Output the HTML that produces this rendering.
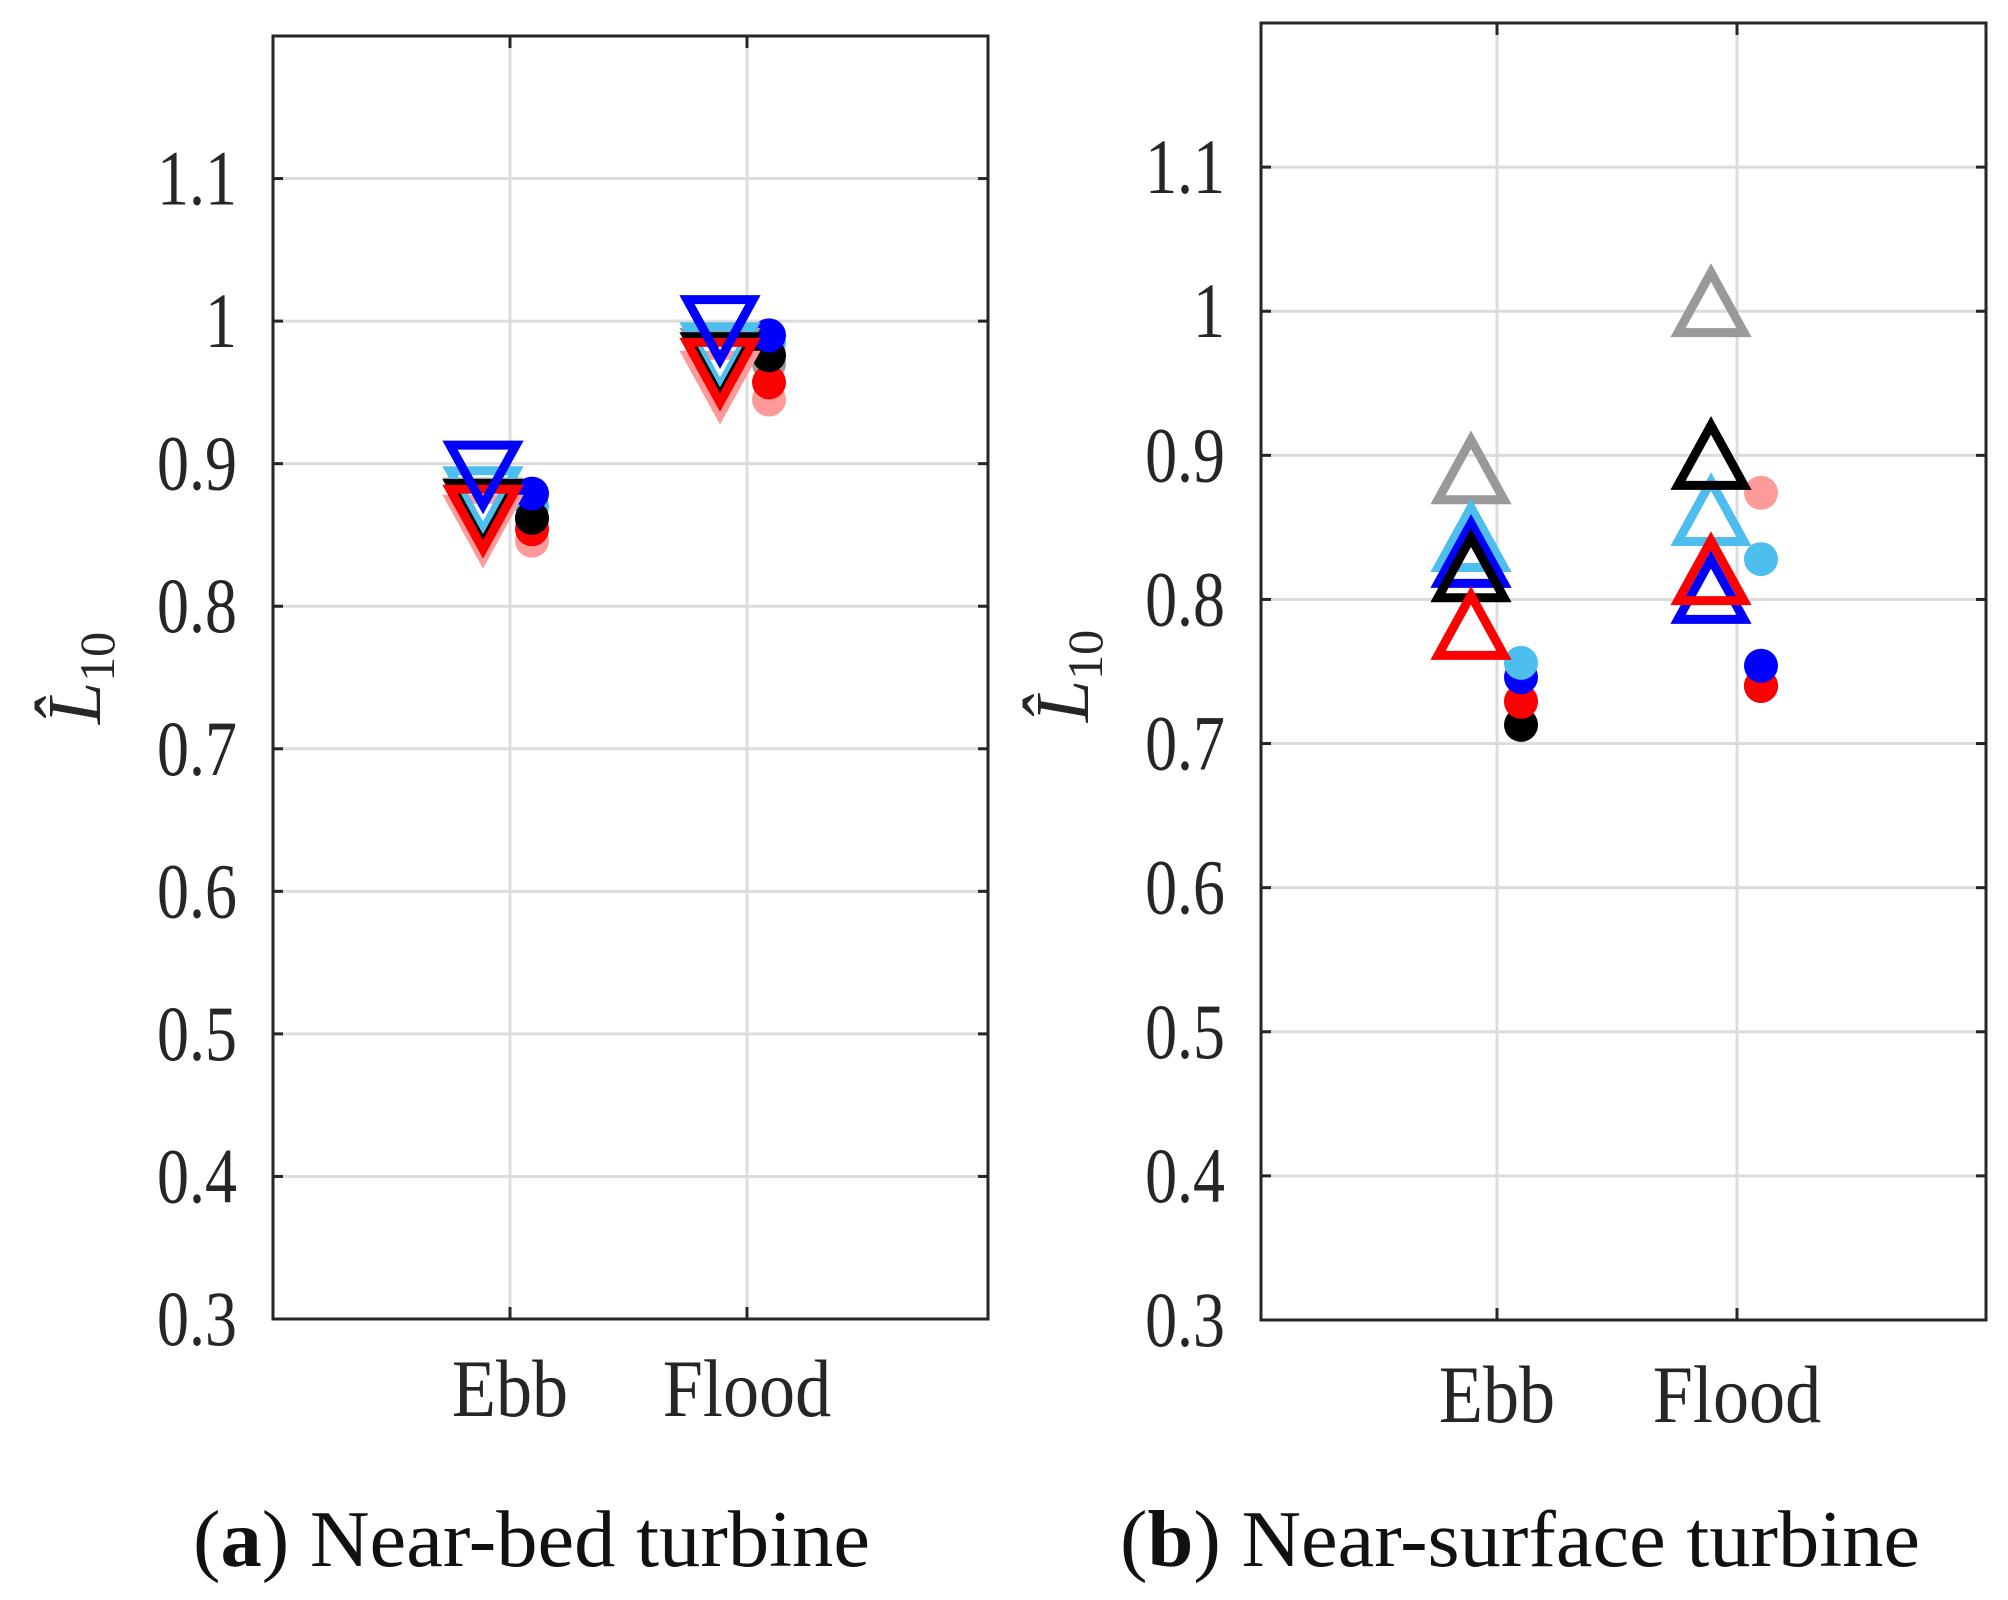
<!DOCTYPE html>
<html><head><meta charset="utf-8"><style>
html,body{margin:0;padding:0;background:#fff}
svg text{font-family:"Liberation Serif",serif;fill:#262626}
</style></head><body>
<svg id="fig" width="2008" height="1595" viewBox="0 0 2008 1595" xmlns="http://www.w3.org/2000/svg">
</svg>
<script>
// ---------- data ----------
const categories = ["Ebb", "Flood"];
const yTicks = [0.3, 0.4, 0.5, 0.6, 0.7, 0.8, 0.9, 1, 1.1];
const yTickLabels = ["0.3","0.4","0.5","0.6","0.7","0.8","0.9","1","1.1"];
const colorNames = ["pink","gray","black","lightblue","red","blue"];
// panel (a) near-bed: inverted triangles [ebb, flood]
const aTriPink = [0.854, 0.955];
const aTriGray = [0.866, 0.971];
const aTriBlack = [0.865, 0.968];
const aTriLightblue = [0.874, 0.975];
const aTriRed = [0.861, 0.964];
const aTriBlue = [0.892, 0.994];
// panel (a) dots
const aDotPink = [0.846, 0.945];
const aDotGray = [0.860, 0.970];
const aDotLightblue = [0.870, 0.985];
const aDotBlack = [0.862, 0.976];
const aDotRed = [0.854, 0.957];
const aDotBlue = [0.879, 0.990];
// panel (b) near-surface: triangles
const bTriGray = [0.890, 1.006];
const bTriLightblue = [0.843, 0.861];
const bTriBlue = [0.832, 0.807];
const bTriBlack = [0.822, 0.900];
const bTriRed = [0.782, 0.820];
// panel (b) dots
const bDotPink = [0.730, 0.874];
const bDotBlack = [0.713, 0.740];
const bDotLightblue = [0.756, 0.828];
const bDotBlue = [0.746, 0.754];
const bDotRed = [0.729, 0.740];

const COLORS = {pink:"#ff9a9a", gray:"#999999", black:"#000000", lightblue:"#4dbeee", red:"#ff0000", blue:"#0000ff"};
const NS = "http://www.w3.org/2000/svg";
const svg = document.getElementById("fig");
function mk(tag, attrs, parent){const e=document.createElementNS(NS,tag);for(const k in attrs)e.setAttribute(k,attrs[k]);(parent||svg).appendChild(e);return e;}

function panel(cfg){
  const g = mk("g",{});
  
  
  const ys = v => cfg.yTop + (1.2 - v) / 0.9 * (cfg.yBot - cfg.yTop);
  const xs = v => cfg.xEbb + (v - 1) * cfg.unit;
  yTicks.forEach((t,i)=>{
    const y = ys(t);
    const l = mk("line",{x1:cfg.x0,x2:cfg.x1,y1:y,y2:y,stroke:"#dcdcdc","stroke-width":3},g);
    
    
    mk("line",{x1:cfg.x0,x2:cfg.x0+10,y1:y,y2:y,stroke:"#262626","stroke-width":3},g);
    mk("line",{x1:cfg.x1-10,x2:cfg.x1,y1:y,y2:y,stroke:"#262626","stroke-width":3},g);
    const tx = mk("text",{x:cfg.x0-36,y:y+26,"text-anchor":"end","font-size":78,transform:`translate(${cfg.x0-36},0) scale(0.82,1) translate(${-(cfg.x0-36)},0)`},g);
    tx.textContent = yTickLabels[i];
    
    
  });
  categories.forEach((c,i)=>{
    const x = xs(i+1);
    const l = mk("line",{x1:x,x2:x,y1:cfg.yTop,y2:cfg.yBot,stroke:"#dcdcdc","stroke-width":3},g);
    
    
    mk("line",{x1:x,x2:x,y1:cfg.yBot-12,y2:cfg.yBot,stroke:"#262626","stroke-width":3},g);
    mk("line",{x1:x,x2:x,y1:cfg.yTop,y2:cfg.yTop+12,stroke:"#262626","stroke-width":3},g);
    const tx = mk("text",{x:x,y:cfg.labelY,"text-anchor":"middle","font-size":82,transform:`translate(${x},0) scale(0.88,1) translate(${-x},0)`},g);
    tx.textContent = c;
    
    
  });
  const box = mk("rect",{x:cfg.x0,y:cfg.yTop,width:cfg.x1-cfg.x0,height:cfg.yBot-cfg.yTop,fill:"none",stroke:"#262626","stroke-width":3},g);
  
  
  const yl = mk("text",{x:0,y:0,"font-size":76,transform:`translate(${cfg.ylX},${cfg.ylY}) rotate(-90)`,"text-anchor":"middle"},g);
  
  
  const t1 = mk("tspan",{"font-style":"italic"},yl); t1.textContent="L\u0302";
  const t2 = mk("tspan",{"font-size":50,dy:14},yl); t2.textContent="10";
  cfg.dots.forEach(s=>{
    s.vals.forEach((v,i)=>{
      const c = mk("circle",{cx:xs(i+1)+cfg.dotOff,cy:ys(v),r:17,fill:COLORS[s.color]},g);
      
      
    });
  });
  cfg.tris.forEach(s=>{
    s.vals.forEach((v,i)=>{
      const cx = xs(i+1)+cfg.triOff, cy = ys(v), h=30, w=33;
      const d = cfg.down
        ? `M${cx-w},${cy-h} L${cx+w},${cy-h} L${cx},${cy+h} Z`
        : `M${cx},${cy-h} L${cx+w},${cy+h} L${cx-w},${cy+h} Z`;
      const p = mk("path",{d:d,fill:"none",stroke:COLORS[s.color],"stroke-width":9,"stroke-linejoin":"miter"},g);
      
      
    });
  });
  const cap = mk("text",{x:cfg.capX,y:1566,"font-size":80,textLength:cfg.capW,lengthAdjust:"spacingAndGlyphs",style:"fill:#111"},g);
  
  
  const a = mk("tspan",{},cap); a.textContent="(";
  const b = mk("tspan",{"font-weight":"bold"},cap); b.textContent=cfg.letter;
  const c2 = mk("tspan",{},cap); c2.textContent=") "+cfg.caption;
}

panel({name:"panel-a", x0:273, x1:988, yTop:36, yBot:1319, xEbb:510, unit:237, labelY:1416,
  ylX:100, ylY:678, triOff:-27, dotOff:22, down:true, capX:193, capW:677, letter:"a", caption:"Near-bed turbine",
  dots:[{color:"pink",vals:aDotPink},{color:"gray",vals:aDotGray},{color:"lightblue",vals:aDotLightblue},{color:"red",vals:aDotRed},{color:"black",vals:aDotBlack},{color:"blue",vals:aDotBlue}],
  tris:[{color:"pink",vals:aTriPink},{color:"gray",vals:aTriGray},{color:"lightblue",vals:aTriLightblue},{color:"black",vals:aTriBlack},{color:"red",vals:aTriRed},{color:"blue",vals:aTriBlue}]});

panel({name:"panel-b", x0:1261, x1:1986, yTop:23, yBot:1320, xEbb:1497, unit:240, labelY:1422,
  ylX:1088, ylY:676, triOff:-26, dotOff:24, down:false, capX:1120, capW:800, letter:"b", caption:"Near-surface turbine",
  dots:[{color:"pink",vals:bDotPink},{color:"black",vals:bDotBlack},{color:"red",vals:bDotRed},{color:"blue",vals:bDotBlue},{color:"lightblue",vals:bDotLightblue}],
  tris:[{color:"gray",vals:bTriGray},{color:"lightblue",vals:bTriLightblue},{color:"blue",vals:bTriBlue},{color:"black",vals:bTriBlack},{color:"red",vals:bTriRed}]});
</script>
</body></html>
